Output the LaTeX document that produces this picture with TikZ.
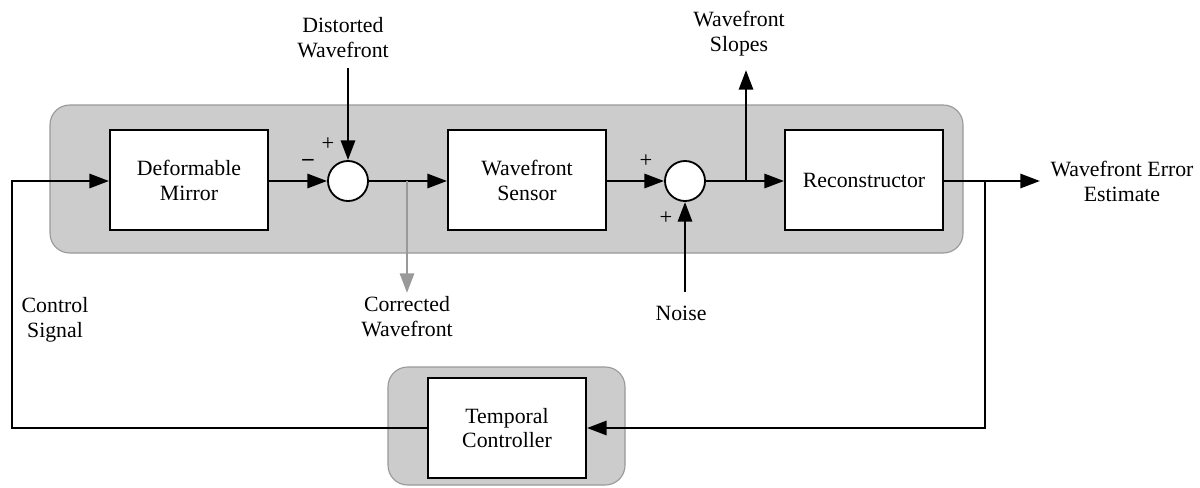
\documentclass[tikz,border=0pt]{standalone}
\usepackage{fontspec}
\setmainfont{Liberation Serif}
\usetikzlibrary{arrows.meta}

\definecolor{panelgray}{HTML}{CCCCCC}
\definecolor{paneledge}{HTML}{999999}
\definecolor{tapgray}{HTML}{999999}

\begin{document}
\begin{tikzpicture}[
    x=0.025cm, y=-0.025cm,
    font=\fontsize{15.5}{17.7}\selectfont,
    panel/.style={fill=panelgray, draw=paneledge, line width=0.8pt, rounded corners=14pt},
    block/.style={draw, fill=white, line width=1.3pt, minimum width=3.95cm, minimum height=2.48cm, align=center},
    sumnode/.style={circle, draw, fill=white, line width=1.3pt, minimum size=1cm, inner sep=0pt},
    label/.style={align=center},
    sign/.style={font=\fontsize{16}{18}\selectfont},
    sig/.style={line width=2pt},
    arrow/.style={sig, -{Triangle[length=14pt, width=10pt]}},
    taparrow/.style={line width=2pt, draw=tapgray, -{Triangle[length=14pt, width=10pt, fill=tapgray]}}
  ]

  \useasboundingbox (0,0) rectangle (1200,487);

  % grey panels behind the loop
  \draw[panel] (50,105) rectangle (963,253);
  \draw[panel] (388,367) rectangle (625,485);

  % blocks and summing junctions on the forward path
  \node[block] (dm) at (189,180) {Deformable\\Mirror};
  \node[sumnode] (sumA) at (348,181) {};
  \node[block] (ws) at (527,180) {Wavefront\\Sensor};
  \node[sumnode] (sumB) at (685,181) {};
  \node[block] (rec) at (864,180) {Reconstructor};
  \node[block] (tc) at (507,428) {Temporal\\Controller};

  % outside labels
  \node[label] (distorted) at (343,38) {Distorted\\Wavefront};
  \node[label] (slopes) at (739,34) {Wavefront\\Slopes};
  \node[label] (corrected) at (407,317) {Corrected\\Wavefront};
  \node[label] (noise) at (681,313) {Noise};
  \node[label] (estimate) at (1122,181) {Wavefront Error\\Estimate};
  \node[label] (control) at (55,320) {Control\\Signal};

  % signs at the summing junctions
  \node[sign] (plusA) at (328,144) {+};
  \node[sign] (minusA) at (308,162) {\textbf{–}};
  \node[sign] (plusB) at (646,161) {+};
  \node[sign] (plusC) at (666,218) {+};

  % branch points and free ends
  \coordinate (dwTop) at (348,68);
  \coordinate (tapC) at (407,181);
  \coordinate (tapCEnd) at (407,293);
  \coordinate (tapS) at (746,181);
  \coordinate (tapSEnd) at (746,70);
  \coordinate (noiseEnd) at (685,292);
  \coordinate (outEnd) at (1040,181);
  \coordinate (tapR) at (985,181);
  \coordinate (tapRLow) at (985,428);
  \coordinate (loopLow) at (12,428);
  \coordinate (loopUp) at (12,181);

  % forward path
  \draw[arrow] (dm.east |- sumA) -- (sumA.west);
  \draw[arrow] (sumA.east) -- (ws.west |- sumA);
  \draw[arrow] (ws.east |- sumB) -- (sumB.west);
  \draw[arrow] (sumB.east) -- (rec.west |- sumB);
  \draw[arrow] (rec.east |- sumB) -- (outEnd);

  % inputs and taps
  \draw[arrow] (dwTop) -- (sumA.north);
  \draw[arrow] (noiseEnd) -- (sumB.south);
  \draw[arrow] (tapS) -- (tapSEnd);
  \draw[taparrow] (tapC) -- (tapCEnd);

  % feedback loop through the temporal controller
  \draw[arrow] (tapR) -- (tapRLow) -- (tc.east);
  \draw[arrow] (tc.west) -- (loopLow) -- (loopUp) -- (dm.west |- loopUp);

\end{tikzpicture}
\end{document}
